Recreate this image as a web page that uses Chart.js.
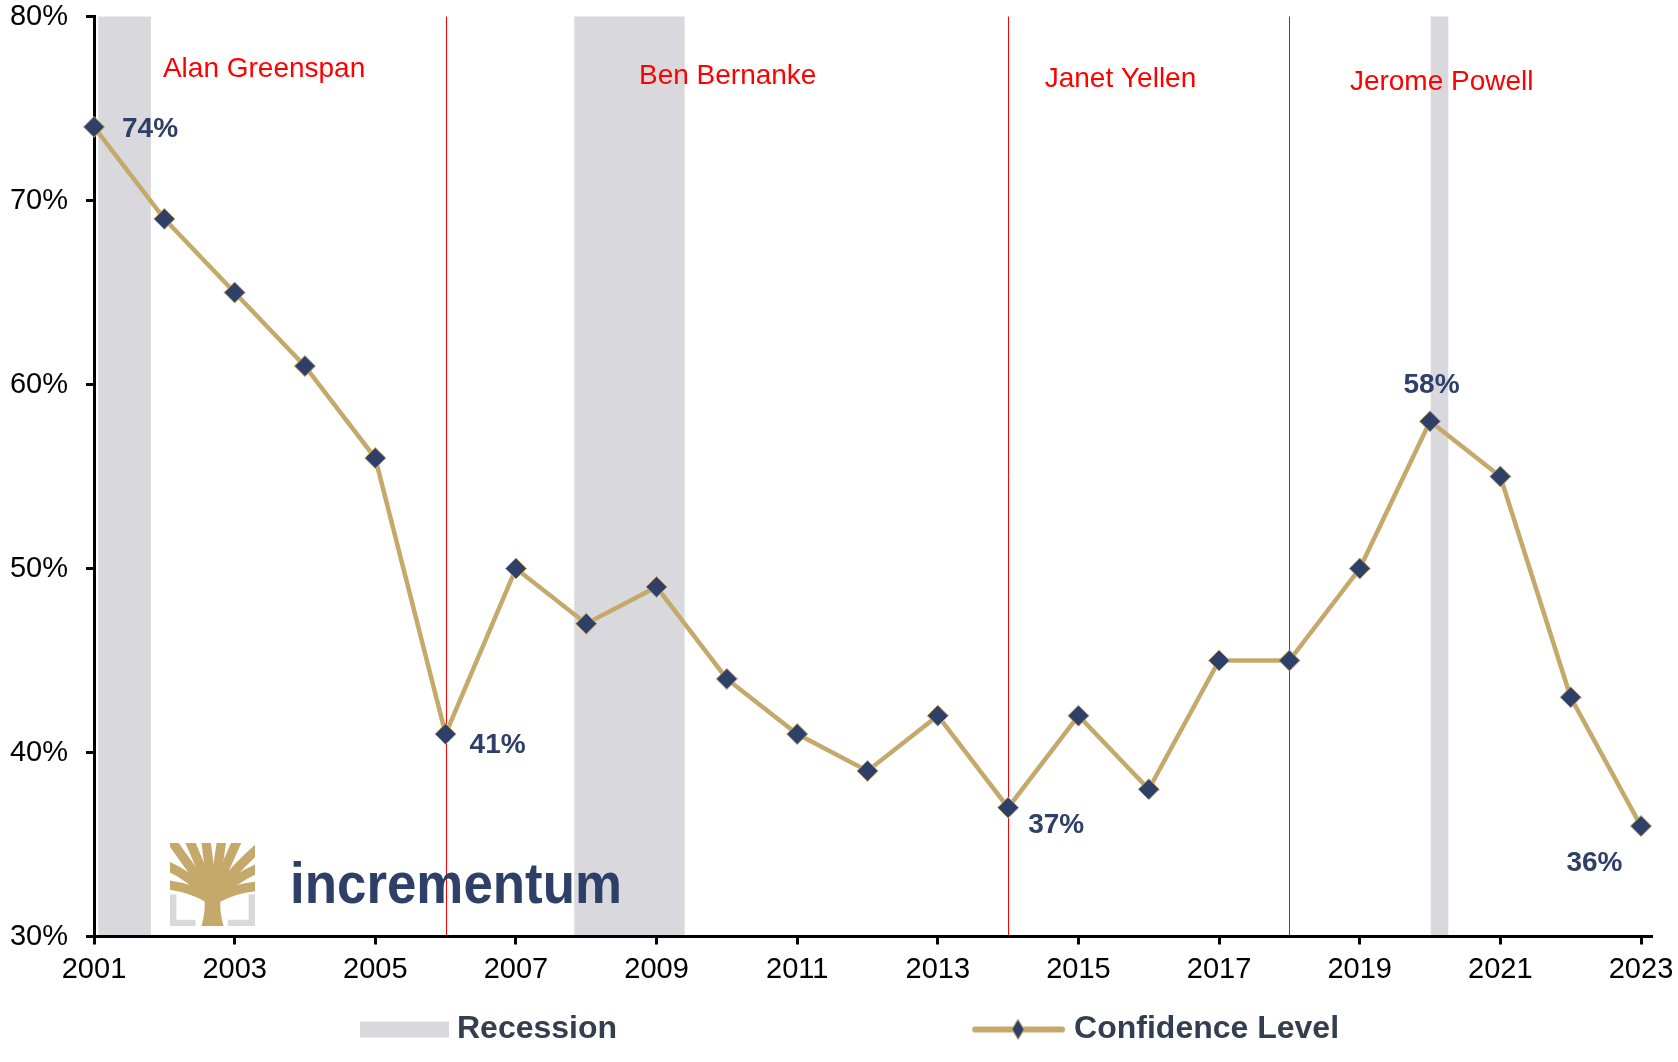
<!DOCTYPE html>
<html>
<head>
<meta charset="utf-8">
<script src="https://cdn.jsdelivr.net/npm/chart.js@4.4.0/dist/chart.umd.min.js"></script>
<style>
html,body{margin:0;padding:0;background:#fff;}
#wrap{width:1678px;height:1062px;position:relative;}
</style>
</head>
<body>
<div id="wrap"><canvas id="c" width="1678" height="1062"></canvas></div>
<script>
// ---------- DATA ----------
const years = [2001,2002,2003,2004,2005,2006,2007,2008,2009,2010,2011,2012,2013,2014,2015,2016,2017,2018,2019,2020,2021,2022,2023];
const confidence = [74,69,65,61,56,41,50,47,49,44,41,39,42,37,42,38,45,45,50,58,55,43,36];
const recessionStart = [2001.06, 2007.83, 2020.01];
const recessionEnd = [2001.81, 2009.40, 2020.26];
const chairChangeYears = [2006, 2014, 2018];
const chairNames = ['Alan Greenspan', 'Ben Bernanke', 'Janet Yellen', 'Jerome Powell'];
const highlightedYears = [2001, 2006, 2014, 2020, 2023];
const xTickValues = [2001,2003,2005,2007,2009,2011,2013,2015,2017,2019,2021,2023];
const yTickValues = [30,40,50,60,70,80];
const seriesName = 'Confidence Level';
const bandName = 'Recession';

// ---------- STYLE / LAYOUT ----------
const TAN = '#C4A96B';
const NAVY = '#2E4068';
const BAND = '#D9D8DC';
const RED = '#FF0000';
const FONT = "'Liberation Sans', Arial, sans-serif";
// anchor positions of chair names (value space) – layout only
const chairNameAnchors = [{x:2001.98,y:76.72},{x:2008.75,y:76.34},{x:2014.52,y:76.17},{x:2018.86,y:76.0}];
// offsets (px) of highlighted value labels – layout only
const valueLabelLayout = [
  {dx:28, dy:10, align:'left'},
  {dx:24, dy:19, align:'left'},
  {dx:20, dy:25, align:'left'},
  {dx:1.5, dy:-28, align:'center'},
  {dx:-46.5, dy:45, align:'center'}
];

Chart.defaults.font.family = FONT;

// legend symbol images
const LEG_W = 429;
function legendImage(kind){
  const c = document.createElement('canvas');
  const w = LEG_W + 16, h = 26;
  c.width = w; c.height = h;
  const g = c.getContext('2d');
  if (kind === 'band') {
    g.fillStyle = BAND;
    g.fillRect(w - 89, 5, 89, 16);
  } else {
    g.strokeStyle = TAN; g.lineWidth = 6; g.lineCap = 'round';
    g.beginPath(); g.moveTo(w - 91, 13); g.lineTo(w - 4, 13); g.stroke();
    const cx = w - 48, cy = 13;
    g.beginPath();
    g.moveTo(cx, cy - 10); g.lineTo(cx + 6, cy); g.lineTo(cx, cy + 10); g.lineTo(cx - 6, cy); g.closePath();
    g.fillStyle = NAVY; g.fill();
    g.lineWidth = 1; g.strokeStyle = TAN; g.stroke();
  }
  return c;
}
const bandImg = legendImage('band');
const lineImg = legendImage('line');

function drawLogo(ctx, x0, y0, w, h){
  const X = u => x0 + u * w, Y = v => y0 + v * h;
  ctx.save();
  ctx.fillStyle = BAND;
  const t = 0.075;
  ctx.fillRect(X(0), Y(0.62), w * t, h * 0.38);
  ctx.fillRect(X(0), Y(1 - t), w * 0.3, h * t);
  ctx.fillRect(X(1 - t), Y(0.62), w * t, h * 0.38);
  ctx.fillRect(X(0.68), Y(1 - t), w * 0.32, h * t);
  ctx.beginPath(); ctx.rect(x0, y0, w, h); ctx.clip();
  ctx.fillStyle = TAN;
  ctx.beginPath();
  ctx.moveTo(X(0.37), Y(1)); ctx.lineTo(X(0.63), Y(1));
  ctx.quadraticCurveTo(X(0.57), Y(0.8), X(0.6), Y(0.56));
  ctx.lineTo(X(0.4), Y(0.56));
  ctx.quadraticCurveTo(X(0.43), Y(0.8), X(0.37), Y(1));
  ctx.fill();
  ctx.strokeStyle = TAN; ctx.lineWidth = 0.11 * w; ctx.lineCap = 'butt';
  const br = [
    [0.44,0.66, 0.25,0.54, -0.05,0.50],
    [0.44,0.63, 0.22,0.38, -0.05,0.27],
    [0.46,0.60, 0.20,0.24, 0.0,-0.05],
    [0.48,0.60, 0.36,0.27, 0.22,-0.05],
    [0.50,0.60, 0.46,0.27, 0.42,-0.05],
    [0.51,0.60, 0.57,0.27, 0.61,-0.05],
    [0.52,0.60, 0.66,0.27, 0.80,-0.05],
    [0.54,0.60, 0.80,0.27, 1.05,0.05],
    [0.56,0.63, 0.80,0.40, 1.05,0.30],
    [0.56,0.66, 0.78,0.54, 1.05,0.52]
  ];
  br.forEach(b => {
    ctx.beginPath();
    ctx.moveTo(X(b[0]), Y(b[1]));
    ctx.quadraticCurveTo(X(b[2]), Y(b[3]), X(b[4]), Y(b[5]));
    ctx.stroke();
  });
  ctx.restore();
  ctx.save();
  ctx.font = 'bold 58px ' + FONT;
  ctx.fillStyle = NAVY;
  ctx.textBaseline = 'alphabetic';
  ctx.fillText('incrementum', 290, 903, 332);
  ctx.restore();
}

const decorPlugin = {
  id: 'decor',
  beforeDatasetsDraw(chart){
    const {ctx, chartArea: a, scales: {x, y}} = chart;
    ctx.save();
    ctx.fillStyle = BAND;
    recessionStart.forEach((s, i) => {
      const x1 = x.getPixelForValue(s), x2 = x.getPixelForValue(recessionEnd[i]);
      ctx.fillRect(x1, a.top, x2 - x1, a.bottom - a.top - 1.5);
    });
    ctx.strokeStyle = RED; ctx.lineWidth = 1;
    chairChangeYears.forEach(yr => {
      const px = Math.round(x.getPixelForValue(yr)) + 0.5;
      ctx.beginPath(); ctx.moveTo(px, a.top); ctx.lineTo(px, a.bottom - 1.5); ctx.stroke();
    });
    ctx.fillStyle = RED;
    ctx.font = '28px ' + FONT;
    ctx.textAlign = 'left'; ctx.textBaseline = 'alphabetic';
    chairNames.forEach((n, i) => {
      const p = chairNameAnchors[i];
      ctx.fillText(n, x.getPixelForValue(p.x), y.getPixelForValue(p.y));
    });
    drawLogo(ctx, 170, 843, 85, 83);
    ctx.restore();
  },
  afterDraw(chart){
    const {ctx, chartArea: a} = chart;
    ctx.save();
    ctx.strokeStyle = '#000'; ctx.lineWidth = 3;
    ctx.beginPath(); ctx.moveTo(a.right - 1, a.bottom); ctx.lineTo(a.right + 12, a.bottom); ctx.stroke();
    const meta = chart.getDatasetMeta(0);
    ctx.fillStyle = NAVY;
    ctx.font = 'bold 28px ' + FONT;
    ctx.textBaseline = 'alphabetic';
    highlightedYears.forEach((yr, k) => {
      const i = years.indexOf(yr);
      const el = meta.data[i];
      const L = valueLabelLayout[k];
      ctx.textAlign = L.align;
      ctx.fillText(confidence[i] + '%', el.x + L.dx, el.y + L.dy);
    });
    ctx.restore();
  }
};

function noPad(s){ s.paddingTop = 0; s.paddingBottom = 0; s.paddingLeft = 0; s.paddingRight = 0; }

new Chart(document.getElementById('c'), {
  type: 'line',
  data: {
    datasets: [{
      label: seriesName,
      data: years.map((yr, i) => ({x: yr, y: confidence[i]})),
      borderColor: TAN,
      borderWidth: 4.5,
      pointStyle: 'rectRot',
      pointRadius: 10.5,
      pointBackgroundColor: NAVY,
      pointBorderColor: TAN,
      pointBorderWidth: 1,
      tension: 0,
      clip: false
    }]
  },
  options: {
    responsive: false,
    animation: false,
    layout: {padding: {top: 16.5, right: 37, bottom: 6.5, left: 0}},
    scales: {
      x: {
        type: 'linear',
        min: 2001, max: 2023,
        afterBuildTicks(s){ s.ticks = xTickValues.map(v => ({value: v})); },
        afterFit(s){ s.height = 65; noPad(s); },
        ticks: {color: '#000', font: {size: 29}, padding: 8, maxRotation: 0, autoSkip: false, callback: v => String(v)},
        grid: {drawOnChartArea: false, drawTicks: true, tickLength: 8, lineWidth: 3, tickWidth: 3, tickColor: '#000', color: '#000'},
        border: {display: true, color: '#000', width: 3}
      },
      y: {
        min: 30, max: 80,
        afterBuildTicks(s){ s.ticks = yTickValues.map(v => ({value: v})); },
        afterFit(s){ s.width = 94; noPad(s); },
        ticks: {color: '#000', font: {size: 29, lineHeight: 1.14}, padding: 18, callback: v => v + '%'},
        grid: {drawOnChartArea: false, drawTicks: true, tickLength: 8, lineWidth: 3, tickWidth: 3, tickColor: '#000', color: '#000'},
        border: {display: true, color: '#000', width: 3}
      }
    },
    plugins: {
      tooltip: {enabled: false},
      legend: {
        position: 'bottom',
        align: 'start',
        onClick: null,
        labels: {
          usePointStyle: true,
          pointStyleWidth: LEG_W,
          padding: 12,
          color: '#333F50',
          font: {size: 32, weight: 'bold'},
          generateLabels(){
            return [
              {text: bandName, pointStyle: bandImg, fillStyle: BAND, strokeStyle: BAND, lineWidth: 0, hidden: false, fontColor: '#333F50'},
              {text: seriesName, pointStyle: lineImg, fillStyle: NAVY, strokeStyle: TAN, lineWidth: 0, hidden: false, datasetIndex: 0, fontColor: '#333F50'}
            ];
          }
        }
      }
    }
  },
  plugins: [decorPlugin]
});
</script>
</body>
</html>
